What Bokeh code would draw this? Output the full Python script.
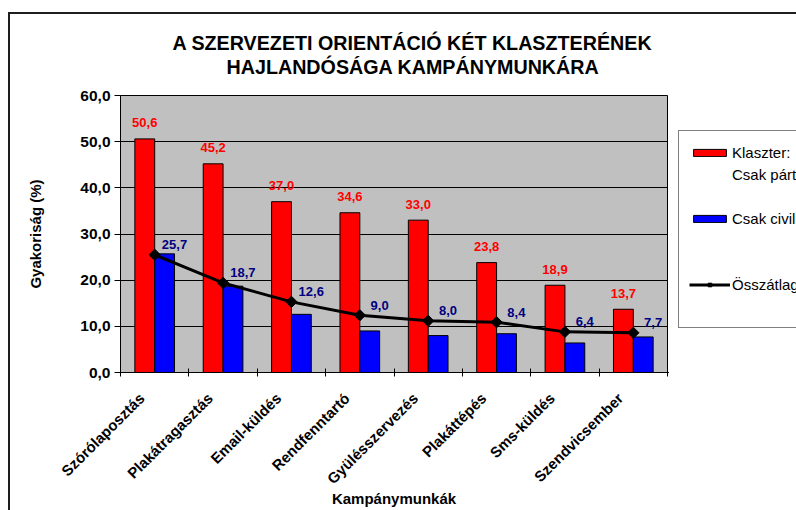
import math
from bokeh.plotting import figure
from bokeh.layouts import row
from bokeh.models import (Range1d, FixedTicker, ColumnDataSource, Legend, LegendItem, Title)
from bokeh.core.properties import value
from bokeh.embed import file_html
from bokeh.resources import INLINE

# ---- data ----
categories = ["Szórólaposztás", "Plakátragasztás", "Email-küldés", "Rendfenntartó",
              "Gyülésszervezés", "Plakáttépés", "Sms-küldés", "Szendvicsember"]
party_values = [50.6, 45.2, 37.0, 34.6, 33.0, 23.8, 18.9, 13.7]
civil_values = [25.7, 18.7, 12.6, 9.0, 8.0, 8.4, 6.4, 7.7]
overall_values = [25.5, 19.4, 15.3, 12.4, 11.2, 10.9, 8.8, 8.6]
y_ticks = [0, 10, 20, 30, 40, 50, 60]
y_tick_labels = ["0,0", "10,0", "20,0", "30,0", "40,0", "50,0", "60,0"]
legend_labels = ["Klaszter:", "Csak pártorientált", "Csak civil orientált", "Összátlag"]
title_lines = ["A SZERVEZETI ORIENTÁCIÓ KÉT KLASZTERÉNEK", "HAJLANDÓSÁGA KAMPÁNYMUNKÁRA"]

RED, BLUE, NAVY = "#ff0000", "#0000ff", "#000080"
FONT = "Liberation Sans"


def fmt(v):
    return f"{v:.1f}".replace(".", ",")


n = len(categories)
centers = [i + 0.5 for i in range(n)]
label_pos = [c - 0.19 for c in centers]   # rotated labels hang slightly left of centre
bw = 0.29
src = ColumnDataSource(dict(
    xc=centers,
    xr=[c - bw / 2 for c in centers],
    xb=[c + bw / 2 for c in centers],
    xl=[c + 0.29 for c in centers],
    party=party_values, civil=civil_values, overall=overall_values,
    plab=[fmt(v) for v in party_values],
    clab=[fmt(v) for v in civil_values],
))

# ---------------- main chart ----------------
p = figure(width=658, height=496, output_backend="svg", toolbar_location=None,
           x_range=Range1d(0, n), y_range=Range1d(0, 60),
           min_border_left=110, min_border_right=1, min_border_top=81,
           min_border_bottom=137)

p.background_fill_color = "#c0c0c0"
p.border_fill_color = "white"
p.outline_line_color = "black"
p.outline_line_width = 1

p.xgrid.visible = False
p.ygrid.ticker = FixedTicker(ticks=y_ticks)
p.ygrid.grid_line_color = "black"
p.ygrid.grid_line_width = 1

bar_style = dict(width=bw, line_color="black", line_width=1)
p.vbar(x="xr", top="party", source=src, fill_color=RED, **bar_style)
p.vbar(x="xb", top="civil", source=src, fill_color=BLUE, **bar_style)
p.line(x="xc", y="overall", source=src, line_color="black", line_width=3)
p.scatter(x="xc", y="overall", source=src, marker="square", angle=math.pi / 4,
          size=8, fill_color="black", line_color="black")

p.text(x="xr", y="party", text="plab", source=src, text_color=RED,
       text_font=value(FONT), text_font_style="bold", text_font_size="13px",
       text_align="center", text_baseline="middle", y_offset=-16)
p.text(x="xl", y="overall", text="clab", source=src, text_color=NAVY,
       text_font=value(FONT), text_font_style="bold", text_font_size="13px",
       text_align="center", text_baseline="middle", y_offset=-10)

xa = p.xaxis[0]
xa.ticker = FixedTicker(ticks=label_pos, minor_ticks=list(range(n + 1)))
xa.major_label_overrides = {c: lab for c, lab in zip(label_pos, categories)}
xa.major_label_orientation = math.pi / 4
xa.major_tick_in = 0
xa.major_tick_out = 0
xa.minor_tick_in = 4
xa.minor_tick_out = 4
xa.minor_tick_line_color = "black"
xa.axis_line_color = "black"
xa.major_label_text_font = FONT
xa.major_label_text_font_style = "bold"
xa.major_label_text_font_size = "15px"
xa.major_label_text_color = "black"
xa.major_label_standoff = 19
xa.axis_label = "Kampánymunkák"
xa.axis_label_text_font = FONT
xa.axis_label_text_font_style = "bold"
xa.axis_label_text_font_size = "15px"
xa.axis_label_text_color = "black"
xa.axis_label_standoff = -6

ya = p.yaxis[0]
ya.ticker = FixedTicker(ticks=y_ticks)
ya.major_label_overrides = {t: lab for t, lab in zip(y_ticks, y_tick_labels)}
ya.minor_tick_line_color = None
ya.major_tick_in = 0
ya.major_tick_out = 6
ya.major_tick_line_color = "black"
ya.axis_line_color = "black"
ya.major_label_text_font = FONT
ya.major_label_text_font_style = "bold"
ya.major_label_text_font_size = "15.5px"
ya.major_label_text_color = "black"
ya.major_label_standoff = 4
ya.axis_label = "Gyakoriság (%)"
ya.axis_label_text_font = FONT
ya.axis_label_text_font_style = "bold"
ya.axis_label_text_font_size = "15px"
ya.axis_label_text_color = "black"
ya.axis_label_standoff = 33

# titles (the one nearest to the plot area is added first)
spacer = Title(text=" ", text_font_size="6px", standoff=10)
t2 = Title(text=title_lines[1], align="left", offset=106, text_font=FONT,
           text_font_style="bold", text_font_size="19.7px", text_color="black",
           standoff=0)
t1 = Title(text=title_lines[0], align="left", offset=52, text_font=FONT,
           text_font_style="bold", text_font_size="19.7px", text_color="black",
           standoff=0)
p.add_layout(spacer, "above")
p.add_layout(t2, "above")
p.add_layout(t1, "above")

# ---------------- legend panel ----------------
# The key glyphs reuse the chart's data; this panel's ranges lie away from
# it, so only the legend itself is visible here.
lg = figure(width=128, height=496, output_backend="svg", toolbar_location=None,
            x_range=Range1d(100, 101), y_range=Range1d(100, 101),
            x_axis_type=None, y_axis_type=None,
            min_border_left=0, min_border_right=0, min_border_bottom=137,
            min_border_top=81)
lg.outline_line_color = None
lg.background_fill_color = "white"
lg.border_fill_color = "white"
lg.xgrid.visible = False
lg.ygrid.visible = False

k_party = lg.vbar(x="xr", top="party", source=src, fill_color=RED, **bar_style)
k_civil = lg.vbar(x="xb", top="civil", source=src, fill_color=BLUE, **bar_style)
k_line = lg.line(x="xc", y="overall", source=src, line_color="black", line_width=3)
k_pts = lg.scatter(x="xc", y="overall", source=src, marker="square",
                   angle=math.pi / 4, size=8, fill_color="black", line_color="black")

legend = Legend(items=[
    LegendItem(label=legend_labels[0], renderers=[k_party]),
    LegendItem(label=legend_labels[1], renderers=[]),
    LegendItem(label=" ", renderers=[]),
    LegendItem(label=legend_labels[2], renderers=[k_civil]),
    LegendItem(label=" ", renderers=[]),
    LegendItem(label=" ", renderers=[]),
    LegendItem(label=legend_labels[3], renderers=[k_line, k_pts]),
    LegendItem(label=" ", renderers=[]),
], location=(10, 44), orientation="vertical",
    glyph_width=41, glyph_height=9, label_height=22, label_standoff=2,
    spacing=0, padding=10, margin=0,
    border_line_color="black", border_line_width=1,
    background_fill_color="white", background_fill_alpha=1.0,
    label_text_font=FONT, label_text_font_size="15px", label_text_color="black")
lg.add_layout(legend, "center")

layout = row(p, lg, styles={"margin-left": "8px", "margin-top": "12px",
                            "border-left": "2px solid #1e1e1e",
                            "border-top": "2px solid #1e1e1e"})

open("out.html", "w").write(file_html(layout, INLINE))
